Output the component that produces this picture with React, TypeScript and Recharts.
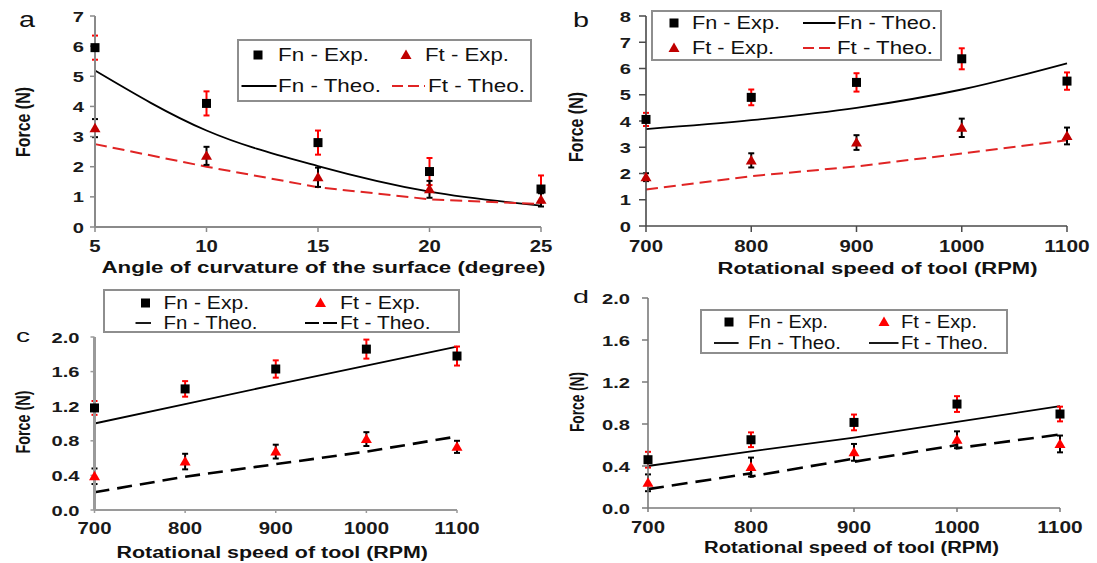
import React from 'react';
import { ComposedChart, Scatter, Line, XAxis, YAxis, ErrorBar, Legend } from 'recharts';

const PAGE_W = 1097;
const PAGE_H = 563;

// ---------- Panel a : angle of curvature ----------
const angleTicks = [5, 10, 15, 20, 25];
const aForceTicks = [0, 1, 2, 3, 4, 5, 6, 7];
const aFnExp = [5.95, 4.1, 2.8, 1.84, 1.26];
const aFnErr = [0.4, 0.4, 0.4, 0.45, 0.45];
const aFtExp = [3.28, 2.36, 1.65, 1.25, 0.9];
const aFtErr = [0.3, 0.3, 0.32, 0.28, 0.22];
const aFnTheo = [5.19, 3.2, 2.02, 1.17, 0.71];
const aFtTheo = [2.75, 2.0, 1.32, 0.92, 0.76];

// ---------- Panel b : rotational speed ----------
const rpmTicks = [700, 800, 900, 1000, 1100];
const bForceTicks = [0, 1, 2, 3, 4, 5, 6, 7, 8];
const bFnExp = [4.06, 4.9, 5.47, 6.37, 5.52];
const bFnErr = [0.25, 0.3, 0.35, 0.4, 0.33];
const bFtExp = [1.86, 2.5, 3.18, 3.74, 3.43];
const bFtErr = [0.15, 0.27, 0.28, 0.35, 0.32];
const bFnTheo = [3.69, 4.03, 4.5, 5.2, 6.2];
const bFtTheo = [1.39, 1.9, 2.27, 2.76, 3.27];

// ---------- Panel c ----------
const smallForceTicks = [0, 0.4, 0.8, 1.2, 1.6, 2.0];
const cFnExp = [1.18, 1.4, 1.63, 1.86, 1.78];
const cFnErr = [0.08, 0.09, 0.1, 0.11, 0.11];
const cFtExp = [0.39, 0.56, 0.675, 0.82, 0.73];
const cFtErr = [0.09, 0.09, 0.08, 0.08, 0.07];
const cFnTheo = [1.0, 1.225, 1.45, 1.67, 1.89];
const cFtTheo = [0.205, 0.385, 0.53, 0.675, 0.85];

// ---------- Panel d ----------
const dFnExp = [0.46, 0.65, 0.815, 0.99, 0.895];
const dFnErr = [0.075, 0.07, 0.075, 0.075, 0.07];
const dFtExp = [0.24, 0.39, 0.53, 0.65, 0.61];
const dFtErr = [0.08, 0.09, 0.08, 0.08, 0.08];
const dFnTheo = [0.4, 0.54, 0.67, 0.82, 0.97];
const dFtTheoRpm = [700, 800, 800, 900, 900, 1000, 1000, 1100];
const dFtTheo = [0.18, 0.33, 0.3, 0.47, 0.44, 0.6, 0.57, 0.7];

type Pt = { x: number; y: number; e: number };
const zipPts = (xs: number[], ys: number[], es?: number[]): Pt[] =>
  xs.map((x, i) => ({ x, y: ys[i], e: es ? es[i] : 0 }));

const FONT = "'Liberation Sans', Arial, Helvetica, sans-serif";
const CAP = 0.716;
const LEG_FS = 17.5;
const glyphW = (s: string) =>
  Array.from(s).reduce((a, ch) => a + (ch === '.' ? 0.278 : 0.556), 0);

const makeSquare = (fill: string) => (props: any) => {
  const { cx, cy } = props;
  if (cx == null || cy == null) return <g />;
  return <rect x={cx - 4.5} y={cy - 4.5} width={9} height={9} fill={fill} />;
};
const makeTriangle = (fill: string) => (props: any) => {
  const { cx, cy } = props;
  if (cx == null || cy == null) return <g />;
  return <polygon points={`${cx},${cy - 5.5} ${cx + 5.5},${cy + 4} ${cx - 5.5},${cy + 4}`} fill={fill} />;
};

const makeXTick = (fs: number, stretch: number, dec: number) => (props: any) => {
  const { x, y, payload } = props;
  const s = Number(payload.value).toFixed(dec);
  return (
    <text x={x} y={y + fs * CAP} textAnchor="middle" fontFamily={FONT} fontWeight="bold" fontSize={fs}
      fill="#1a1a1a" textLength={glyphW(s) * fs * stretch} lengthAdjust="spacingAndGlyphs">{s}</text>
  );
};
const makeYTick = (fs: number, stretch: number, dec: number) => (props: any) => {
  const { x, y, payload } = props;
  const s = Number(payload.value).toFixed(dec);
  return (
    <text x={x} y={y + (fs * CAP) / 2} textAnchor="end" fontFamily={FONT} fontWeight="bold" fontSize={fs}
      fill="#1a1a1a" textLength={glyphW(s) * fs * stretch} lengthAdjust="spacingAndGlyphs">{s}</text>
  );
};

type LegItem = {
  marker: 'square' | 'tri' | 'line' | 'dash';
  mx: number; mx2?: number; my: number; color: string; dash?: string; sw?: number;
  text: string; tx: number; tw: number;
};
type LegSpec = { x: number; y: number; w: number; h: number; items: LegItem[] };

function LegendBox({ spec }: { spec: LegSpec }) {
  const { x: ox, y: oy, w, h } = spec;
  return (
    <svg width={w} height={h} style={{ display: 'block', overflow: 'visible' }}>
      <rect x={1} y={1} width={w - 2} height={h - 2} fill="#fff" stroke="#8e8e8e" strokeWidth={2} />
      {spec.items.map((it, i) => {
        const cx = it.mx - ox;
        const cy = it.my - oy;
        let mk: any = null;
        if (it.marker === 'square') mk = <rect x={cx - 4.5} y={cy - 4.5} width={9} height={9} fill={it.color} />;
        else if (it.marker === 'tri')
          mk = <polygon points={`${cx},${cy - 5.5} ${cx + 5.5},${cy + 4} ${cx - 5.5},${cy + 4}`} fill={it.color} />;
        else
          mk = (
            <line x1={cx} x2={(it.mx2 as number) - ox} y1={cy} y2={cy} stroke={it.color}
              strokeWidth={it.sw || 1.8} strokeDasharray={it.marker === 'dash' ? it.dash : undefined} />
          );
        return (
          <g key={i}>
            {mk}
            <text x={it.tx - ox} y={cy + (LEG_FS * CAP) / 2} fontFamily={FONT} fontSize={LEG_FS} fill="#111"
              textLength={it.tw} lengthAdjust="spacingAndGlyphs">{it.text}</text>
          </g>
        );
      })}
    </svg>
  );
}

type Spec = {
  L: number; R: number; T: number; B: number;
  xTicks: number[]; xDomain: [number, number];
  yTicks: number[]; yDomain: [number, number]; yDec: number;
  fnExp: Pt[]; ftExp: Pt[]; fnTheo: Pt[]; ftTheo: Pt[];
  fnCurve: 'monotone' | 'linear';
  triColor: string; ftTheoColor: string; ftDash: string; ftWidth: number;
  axisColor: string; yAxisW: number; xAxisW: number;
  xTickSize: number; xTickMargin: number; yTickSize: number; yTickMargin: number;
  xTitle: string; xTitleX: number; xTitleW: number; xTitleBase: number;
  yTitleCx: number; yTitleCy: number; yTitleLen: number;
  letter: string; letterX: number; letterW: number; letterBase: number; letterSize: number;
  legend: LegSpec;
};

function Panel({ s }: { s: Spec }) {
  const Yw = 60;
  const Xh = 40;
  const margin = { top: s.T, right: PAGE_W - s.R, bottom: PAGE_H - s.B - Xh, left: s.L - Yw };
  const xTitle = () => (
    <text x={s.xTitleX} y={s.xTitleBase} fontFamily={FONT} fontWeight="bold" fontSize={16} fill="#111"
      textLength={s.xTitleW} lengthAdjust="spacingAndGlyphs">{s.xTitle}</text>
  );
  const yTitle = () => (
    <g>
      <text transform={`translate(${s.yTitleCx + 7},${s.yTitleCy}) scale(1.3,1) rotate(-90)`} x={0} y={0} textAnchor="middle"
        fontFamily={FONT} fontWeight="bold" fontSize={16} fill="#111" textLength={s.yTitleLen}
        lengthAdjust="spacingAndGlyphs">Force (N)</text>
      <text x={s.letterX} y={s.letterBase} fontFamily={FONT} fontSize={s.letterSize} fill="#111"
        textLength={s.letterW} lengthAdjust="spacingAndGlyphs">{s.letter}</text>
    </g>
  );
  const lg = s.legend;
  return (
    <div style={{ position: 'absolute', left: 0, top: 0, width: PAGE_W, height: PAGE_H }}>
      <ComposedChart width={PAGE_W} height={PAGE_H} margin={margin}>
        <XAxis type="number" dataKey="x" domain={s.xDomain} ticks={s.xTicks} interval={0}
          height={Xh} tickSize={s.xTickSize} tickMargin={s.xTickMargin}
          axisLine={{ stroke: s.axisColor, strokeWidth: s.xAxisW }}
          tickLine={{ stroke: s.axisColor, strokeWidth: 1.5 }}
          tick={makeXTick(17, 1.2, 0)} label={xTitle} />
        <YAxis type="number" dataKey="y" domain={s.yDomain} ticks={s.yTicks} interval={0}
          width={Yw} tickSize={s.yTickSize} tickMargin={s.yTickMargin}
          axisLine={{ stroke: s.axisColor, strokeWidth: s.yAxisW }}
          tickLine={{ stroke: s.axisColor, strokeWidth: 1.5 }}
          tick={makeYTick(15.5, 1.3, s.yDec)} label={yTitle} />
        <Line data={s.fnTheo} dataKey="y" type={s.fnCurve} stroke="#000" strokeWidth={1.8} dot={false}
          activeDot={false} isAnimationActive={false} legendType="none" />
        <Line data={s.ftTheo} dataKey="y" type="linear" stroke={s.ftTheoColor} strokeWidth={s.ftWidth}
          strokeDasharray={s.ftDash} dot={false} activeDot={false} isAnimationActive={false} legendType="none" />
        <Scatter data={s.fnExp} dataKey="y" shape={makeSquare('#000')} isAnimationActive={false} legendType="none">
          <ErrorBar dataKey="e" direction="y" width={3} stroke="#FF0000" strokeWidth={2} />
        </Scatter>
        <Scatter data={s.ftExp} dataKey="y" shape={makeTriangle(s.triColor)} isAnimationActive={false} legendType="none">
          <ErrorBar dataKey="e" direction="y" width={3} stroke="#000" strokeWidth={2} />
        </Scatter>
        <Legend layout="horizontal" verticalAlign="middle" align="center"
          wrapperStyle={{ left: lg.x, top: lg.y, width: lg.w, height: lg.h }}
          content={() => <LegendBox spec={lg} />} />
      </ComposedChart>
    </div>
  );
}

const panelA: Spec = {
  L: 95, R: 541, T: 16, B: 227,
  xTicks: angleTicks, xDomain: [5, 25], yTicks: aForceTicks, yDomain: [0, 7], yDec: 0,
  fnExp: zipPts(angleTicks, aFnExp, aFnErr), ftExp: zipPts(angleTicks, aFtExp, aFtErr),
  fnTheo: zipPts(angleTicks, aFnTheo), ftTheo: zipPts(angleTicks, aFtTheo),
  fnCurve: 'monotone', triColor: '#C00000', ftTheoColor: '#E02424', ftDash: '12 6', ftWidth: 2,
  axisColor: '#8a8a8a', yAxisW: 2, xAxisW: 2,
  xTickSize: 5, xTickMargin: 8, yTickSize: 5, yTickMargin: 6,
  xTitle: 'Angle of curvature of the surface (degree)', xTitleX: 101.5, xTitleW: 444, xTitleBase: 273,
  yTitleCx: 23, yTitleCy: 122, yTitleLen: 70,
  letter: 'a', letterX: 19, letterW: 16, letterBase: 27, letterSize: 22,
  legend: {
    x: 237, y: 39, w: 295, h: 63,
    items: [
      { marker: 'square', mx: 258, my: 55, color: '#000', text: 'Fn - Exp.', tx: 278, tw: 91 },
      { marker: 'tri', mx: 406, my: 55, color: '#C00000', text: 'Ft - Exp.', tx: 425, tw: 84 },
      { marker: 'line', mx: 241.5, mx2: 276.5, my: 86, color: '#000', text: 'Fn - Theo.', tx: 278, tw: 103 },
      { marker: 'dash', mx: 392, mx2: 425, my: 86, color: '#E02424', dash: '11 5', sw: 2, text: 'Ft - Theo.', tx: 428, tw: 97 },
    ],
  },
};

const panelB: Spec = {
  L: 646, R: 1067, T: 16, B: 226,
  xTicks: rpmTicks, xDomain: [700, 1100], yTicks: bForceTicks, yDomain: [0, 8], yDec: 0,
  fnExp: zipPts(rpmTicks, bFnExp, bFnErr), ftExp: zipPts(rpmTicks, bFtExp, bFtErr),
  fnTheo: zipPts(rpmTicks, bFnTheo), ftTheo: zipPts(rpmTicks, bFtTheo),
  fnCurve: 'monotone', triColor: '#C00000', ftTheoColor: '#E02424', ftDash: '12 6', ftWidth: 2,
  axisColor: '#4a4a4a', yAxisW: 1.6, xAxisW: 1.6,
  xTickSize: 6, xTickMargin: 8, yTickSize: 7, yTickMargin: 8,
  xTitle: 'Rotational speed of tool (RPM)', xTitleX: 717.5, xTitleW: 320, xTitleBase: 274,
  yTitleCx: 576, yTitleCy: 127, yTitleLen: 70,
  letter: 'b', letterX: 573, letterW: 16, letterBase: 27, letterSize: 20,
  legend: {
    x: 651, y: 10, w: 291, h: 51,
    items: [
      { marker: 'square', mx: 674, my: 23, color: '#000', text: 'Fn - Exp.', tx: 692, tw: 88 },
      { marker: 'line', mx: 803, mx2: 835.5, my: 23, color: '#000', text: 'Fn - Theo.', tx: 837, tw: 100 },
      { marker: 'tri', mx: 674, my: 48, color: '#C00000', text: 'Ft - Exp.', tx: 692, tw: 82 },
      { marker: 'dash', mx: 803, mx2: 835, my: 48, color: '#E02424', dash: '11 5', sw: 2, text: 'Ft - Theo.', tx: 837, tw: 96 },
    ],
  },
};

const panelC: Spec = {
  L: 94.5, R: 457, T: 337, B: 510,
  xTicks: rpmTicks, xDomain: [700, 1100], yTicks: smallForceTicks, yDomain: [0, 2], yDec: 1,
  fnExp: zipPts(rpmTicks, cFnExp, cFnErr), ftExp: zipPts(rpmTicks, cFtExp, cFtErr),
  fnTheo: zipPts(rpmTicks, cFnTheo), ftTheo: zipPts(rpmTicks, cFtTheo),
  fnCurve: 'linear', triColor: '#FF0000', ftTheoColor: '#000', ftDash: '15 8', ftWidth: 2.6,
  axisColor: '#9a9a9a', yAxisW: 3, xAxisW: 2,
  xTickSize: 3, xTickMargin: 9, yTickSize: 4, yTickMargin: 11,
  xTitle: 'Rotational speed of tool (RPM)', xTitleX: 116.5, xTitleW: 311.5, xTitleBase: 558,
  yTitleCx: 23, yTitleCy: 422, yTitleLen: 63,
  letter: 'c', letterX: 16, letterW: 14, letterBase: 342, letterSize: 19,
  legend: {
    x: 102.5, y: 289, w: 357, h: 44,
    items: [
      { marker: 'square', mx: 145, my: 303, color: '#000', text: 'Fn - Exp.', tx: 163, tw: 85.5 },
      { marker: 'tri', mx: 320, my: 303, color: '#FF0000', text: 'Ft - Exp.', tx: 339.5, tw: 80.5 },
      { marker: 'line', mx: 135, mx2: 150.5, my: 323, color: '#000', text: 'Fn - Theo.', tx: 163, tw: 94 },
      { marker: 'dash', mx: 304.5, mx2: 338, my: 323, color: '#000', dash: '14 4', sw: 2, text: 'Ft - Theo.', tx: 339.5, tw: 90.5 },
    ],
  },
};

const panelD: Spec = {
  L: 648, R: 1060, T: 298, B: 508,
  xTicks: rpmTicks, xDomain: [700, 1100], yTicks: smallForceTicks, yDomain: [0, 2], yDec: 1,
  fnExp: zipPts(rpmTicks, dFnExp, dFnErr), ftExp: zipPts(rpmTicks, dFtExp, dFtErr),
  fnTheo: zipPts(rpmTicks, dFnTheo), ftTheo: zipPts(dFtTheoRpm, dFtTheo),
  fnCurve: 'linear', triColor: '#FF0000', ftTheoColor: '#000', ftDash: '16 8', ftWidth: 2.6,
  axisColor: '#7a7a7a', yAxisW: 1.6, xAxisW: 1.6,
  xTickSize: 4, xTickMargin: 9, yTickSize: 6, yTickMargin: 12,
  xTitle: 'Rotational speed of tool (RPM)', xTitleX: 704, xTitleW: 295, xTitleBase: 553,
  yTitleCx: 577, yTitleCy: 402, yTitleLen: 60,
  letter: 'd', letterX: 573, letterW: 16, letterBase: 303, letterSize: 18,
  legend: {
    x: 700, y: 309, w: 308, h: 45,
    items: [
      { marker: 'square', mx: 729, my: 322, color: '#000', text: 'Fn - Exp.', tx: 748, tw: 80 },
      { marker: 'tri', mx: 884, my: 322, color: '#FF0000', text: 'Ft - Exp.', tx: 901, tw: 76 },
      { marker: 'line', mx: 714, mx2: 738.6, my: 343, color: '#000', text: 'Fn - Theo.', tx: 748, tw: 93 },
      { marker: 'line', mx: 869, mx2: 898.5, my: 343, color: '#000', text: 'Ft - Theo.', tx: 901, tw: 87 },
    ],
  },
};

export default function App() {
  return (
    <div style={{ position: 'absolute', left: 0, top: 0, width: PAGE_W, height: PAGE_H, background: '#fff', overflow: 'hidden' }}>
      <Panel s={panelA} />
      <Panel s={panelB} />
      <Panel s={panelC} />
      <Panel s={panelD} />
    </div>
  );
}
